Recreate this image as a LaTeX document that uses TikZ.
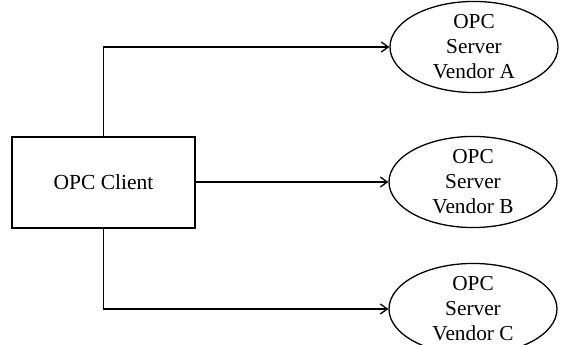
\documentclass[tikz,border=0pt]{standalone}
\usepackage{fontspec}
\setmainfont{Liberation Serif}
\usetikzlibrary{shapes.geometric,arrows.meta}
\begin{document}
\begin{tikzpicture}[x=1pt,y=-1pt,
  line width=1.3pt,
  box/.style={draw,rectangle,minimum width=183pt,minimum height=91pt,inner sep=0pt,font=\fontsize{21.5}{25}\selectfont},
  srv/.style={draw,ellipse,minimum width=168pt,minimum height=80pt,inner sep=0pt,align=center,font=\fontsize{21.3}{25}\selectfont},
  conn/.style={-{Straight Barb[length=7pt,width=10pt]}}]
\path[use as bounding box] (0,0) rectangle (565,345);
\node[box] (client) at (103.5,182.5) {OPC Client};
\node[srv] (a) at (474,47) {OPC\\Server\\Vendor A};
\node[srv] (b) at (473,182) {OPC\\Server\\Vendor B};
\node[srv] (c) at (473,309) {OPC\\Server\\Vendor C};
\draw[conn] (client.north) |- (a.west);
\draw[conn] (client.east |- b.west) -- (b.west);
\draw[conn] (client.south) |- (c.west);
\end{tikzpicture}
\end{document}
